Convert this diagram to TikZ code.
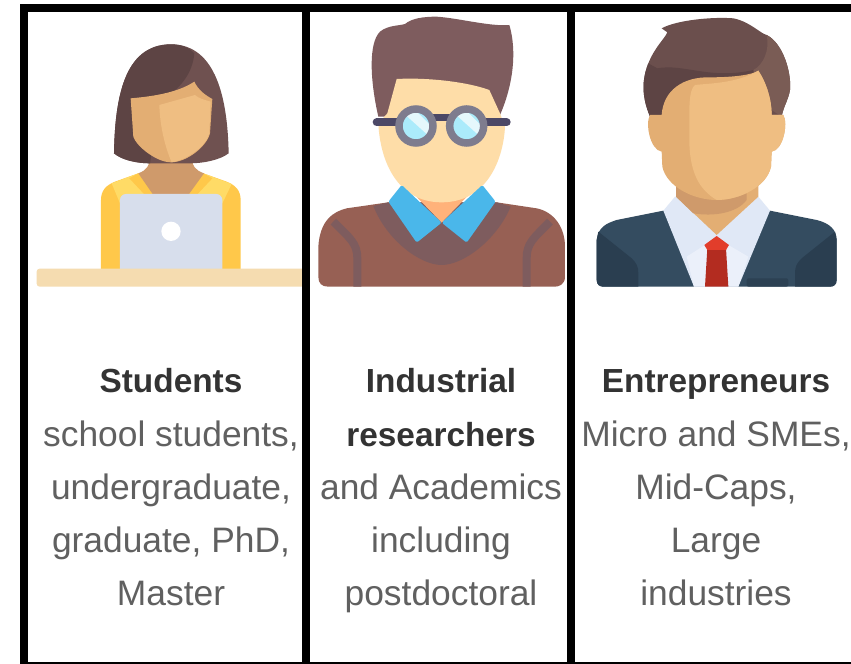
\documentclass[tikz,border=0pt]{standalone}
\usepackage{fontspec}
\setmainfont{Liberation Sans}
\usetikzlibrary{calc}
\definecolor{txtgray}{HTML}{606060}
\definecolor{txtdark}{HTML}{333333}
\definecolor{hairdark}{HTML}{5D4444}
\definecolor{hairlight}{HTML}{6F5150}
\definecolor{skinlight}{HTML}{EFBE82}
\definecolor{skinmid}{HTML}{E3AE73}
\definecolor{skindark}{HTML}{CF9A6B}
\definecolor{yellowdark}{HTML}{FFC84A}
\definecolor{yellowlight}{HTML}{FFDB66}
\definecolor{laptop}{HTML}{D7DEEC}
\definecolor{desk}{HTML}{F5DCB0}
\definecolor{rhair}{HTML}{7E5C5E}
\definecolor{rface}{HTML}{FEDDA8}
\definecolor{rneck}{HTML}{FFB27A}
\definecolor{rsweater}{HTML}{976054}
\definecolor{rcollar}{HTML}{4AB7EA}
\definecolor{gbar}{HTML}{4C4866}
\definecolor{gring}{HTML}{7E7C8E}
\definecolor{glens}{HTML}{ABEBFB}
\definecolor{glight}{HTML}{E5F8FC}
\definecolor{suit}{HTML}{344C60}
\definecolor{suitdark}{HTML}{2A3E50}
\definecolor{shirt}{HTML}{E0E8F6}
\definecolor{shirtlight}{HTML}{EBF0FA}
\definecolor{tieknot}{HTML}{E23D2B}
\definecolor{tiebody}{HTML}{B32C20}
\definecolor{ehairtop}{HTML}{6B4F4D}
\definecolor{ehairside}{HTML}{7A5C55}
\tikzset{
  bodytext/.style={anchor=base,inner sep=0pt,text=txtgray,font=\fontsize{35.5}{36}\selectfont},
  headtext/.style={anchor=base,inner sep=0pt,text=txtdark,font=\fontsize{33.5}{36}\selectfont\bfseries},
  icon/.style={x=0.33333bp,y=-0.33333bp},
  frameline/.style={fill=black,draw=none}
}
\begin{document}
\begin{tikzpicture}[x=1bp,y=-1bp]
\useasboundingbox (0,0) rectangle (851,664);
\fill[white] (0,0) rectangle (851,664);

% Student
\begin{scope}[icon]
\fill[yellowdark] (303,810) -- (303,600) .. controls (303,570) and (320,555) .. (345,545) -- (415,520) -- (610,520) -- (680,545) .. controls (705,555) and (722,570) .. (722,600) -- (722,810) -- cycle;
\fill[yellowlight] (335,550) -- (415,520) -- (610,520) -- (695,552) -- (667,610) -- (360,610) -- cycle;
\fill[yellowdark] (388,535) -- (415,520) -- (465,585) -- (435,585) -- cycle;
\fill[yellowdark] (637,535) -- (610,520) -- (560,585) -- (590,585) -- cycle;
\fill[skindark] (415,520) .. controls (440,510) and (450,500) .. (450,460) -- (575,460) .. controls (575,500) and (585,510) .. (612,520) -- (565,585) -- (460,585) -- cycle;
\fill[laptop,rounded corners=6bp] (360,582) rectangle (667,825);
\fill[white] (513,694) circle (29);
\fill[desk,rounded corners=3bp] (110,806) rectangle (930,860);
\fill[hairlight] (342,460) .. controls (345,300) and (370,133) .. (513,133) .. controls (650,133) and (683,300) .. (686,460) .. controls (660,480) and (610,490) .. (570,490) -- (450,490) .. controls (410,490) and (365,480) .. (342,460) -- cycle;
\fill[hairdark] (342,460) .. controls (345,300) and (370,133) .. (513,133) .. controls (545,133) and (565,142) .. (583,160) .. controls (578,220) and (540,270) .. (480,300) -- (450,490) .. controls (410,490) and (365,480) .. (342,460) -- cycle;
\fill[skinmid] (392,295) .. controls (450,290) and (530,280) .. (583,245) .. controls (595,270) and (615,285) .. (637,297) -- (630,400) .. controls (620,440) and (560,487) .. (513,487) .. controls (470,487) and (410,440) .. (400,410) -- cycle;
\fill[skinlight] (478,315) -- (585,285) .. controls (595,295) and (615,300) .. (632,305) -- (628,400) .. controls (618,440) and (560,480) .. (515,487) .. controls (495,440) and (480,380) .. (478,315) -- cycle;
\end{scope}

% Researcher
\begin{scope}[shift={(300,0)},icon]
\fill[rhair] (235,350) .. controls (210,240) and (205,130) .. (240,95) .. controls (265,75) and (295,78) .. (315,72) .. controls (335,55) and (370,50) .. (410,50) .. controls (480,55) and (570,80) .. (628,75) .. controls (645,130) and (650,230) .. (600,345) -- cycle;
\fill[rsweater] (55,830) -- (55,740) .. controls (60,660) and (100,635) .. (140,625) -- (265,607) -- (590,607) -- (710,625) .. controls (760,635) and (795,680) .. (795,740) -- (795,830) .. controls (795,855) and (775,860) .. (765,860) -- (85,860) .. controls (65,860) and (55,850) .. (55,830) -- cycle;
\begin{scope}
\clip (55,830) -- (55,740) .. controls (60,660) and (100,635) .. (140,625) -- (710,625) .. controls (760,635) and (795,680) .. (795,740) -- (795,860) -- (55,860) -- cycle;
\draw[rhair,line width=8bp] (100,665) .. controls (150,715) and (172,730) .. (172,775) -- (172,870);
\draw[rhair,line width=8bp] (750,665) .. controls (700,715) and (680,730) .. (680,775) -- (680,870);
\end{scope}
\fill[rhair] (220,618) -- (265,607) -- (590,607) -- (632,620) .. controls (590,720) and (490,795) .. (425,795) .. controls (360,795) and (260,720) .. (220,618) -- cycle;
\fill[rneck] (330,570) -- (425,668) -- (520,570) -- cycle;
\fill[rface] (290,237) .. controls (380,232) and (500,245) .. (568,270) -- (600,340) -- (615,380) .. controls (610,480) and (560,607) .. (425,607) .. controls (290,607) and (240,480) .. (235,370) -- (262,340) -- cycle;
\fill[rcollar,rounded corners=1.5bp] (305,555) -- (425,668) -- (350,728) -- (265,605) -- cycle;
\fill[rcollar,rounded corners=1.5bp] (547,555) -- (425,668) -- (500,728) -- (587,605) -- cycle;
\draw[gbar,line width=8bp,line cap=round] (230,367) -- (295,367);
\draw[gbar,line width=8bp,line cap=round] (555,367) -- (620,367);
\draw[gbar,line width=7bp] (400,352) -- (450,352);
\fill[glens] (348,378) circle (45);
\fill[glens] (500,378) circle (45);
\begin{scope}
\clip (348,378) circle (45);
\fill[glight] (300,330) -- (345,330) -- (400,385) -- (400,420) -- cycle;
\end{scope}
\begin{scope}
\clip (500,378) circle (45);
\fill[glight] (452,330) -- (497,330) -- (552,385) -- (552,420) -- cycle;
\end{scope}
\draw[gring,line width=7.5bp] (348,378) circle (51);
\draw[gring,line width=7.5bp] (500,378) circle (51);
\end{scope}

% Entrepreneur
\begin{scope}[shift={(570,0)},icon]
\fill[suit] (80,840) -- (80,720) .. controls (85,680) and (110,670) .. (140,660) -- (280,632) -- (440,700) -- (600,632) -- (740,660) .. controls (780,670) and (800,690) .. (800,720) -- (800,840) .. controls (800,855) and (790,860) .. (780,860) -- (100,860) .. controls (90,860) and (80,855) .. (80,840) -- cycle;
\fill[suitdark] (85,695) -- (185,775) .. controls (200,790) and (205,800) .. (205,820) -- (205,860) -- (100,860) .. controls (90,860) and (80,855) .. (80,840) -- (80,720) -- cycle;
\fill[suitdark] (795,695) -- (695,775) .. controls (680,790) and (675,800) .. (675,820) -- (675,860) -- (780,860) .. controls (790,860) and (800,855) .. (800,840) -- (800,720) -- cycle;
\fill[suitdark!80!suit,rounded corners=2bp] (530,860) -- (530,835) -- (655,835) -- (655,860) -- cycle;
\fill[shirt] (280,632) -- (315,590) -- (565,590) -- (600,632) -- (505,860) -- (372,860) -- cycle;
\fill[shirtlight] (350,770) -- (405,735) -- (475,735) -- (535,770) -- (505,860) -- (372,860) -- cycle;
\fill[skinmid] (318,530) -- (318,590) -- (440,705) -- (565,590) -- (565,530) -- cycle;
\fill[skindark] (318,530) -- (318,590) -- (370,640) .. controls (430,650) and (500,640) .. (530,600) -- (530,530) -- cycle;
\fill[tiebody] (412,745) -- (468,745) -- (475,860) -- (405,860) -- cycle;
\fill[tieknot] (403,735) -- (440,708) -- (477,735) -- (468,750) -- (412,750) -- cycle;
\fill[ehairtop] (240,350) .. controls (215,290) and (215,240) .. (235,190) .. controls (255,140) and (285,115) .. (292,97) -- (275,85) .. controls (320,60) and (430,50) .. (490,55) .. controls (540,65) and (570,100) .. (590,105) .. controls (640,130) and (665,220) .. (660,270) .. controls (655,300) and (640,320) .. (635,350) -- cycle;
\fill[ehairside] (590,105) .. controls (640,130) and (665,220) .. (660,270) .. controls (655,300) and (640,320) .. (635,350) -- (560,300) -- (550,210) .. controls (580,195) and (600,150) .. (590,105) -- cycle;
\fill[hairdark] (240,350) .. controls (215,290) and (215,240) .. (235,190) -- (262,205) .. controls (340,190) and (420,240) .. (550,210) -- (560,300) -- (300,350) -- cycle;
\fill[skinmid] (275,345) .. controls (280,270) and (340,230) .. (420,232) .. controls (490,232) and (545,225) .. (565,212) .. controls (590,250) and (605,300) .. (605,345) -- (640,345) .. controls (655,370) and (640,450) .. (605,455) -- (603,500) .. controls (590,560) and (510,600) .. (440,600) .. controls (370,600) and (290,560) .. (277,500) -- (275,455) .. controls (240,450) and (225,370) .. (240,345) -- cycle;
\fill[skinlight] (375,255) .. controls (420,250) and (500,250) .. (565,212) .. controls (590,250) and (605,300) .. (605,345) -- (640,345) .. controls (655,370) and (640,450) .. (605,455) -- (603,500) .. controls (590,560) and (510,600) .. (440,600) .. controls (390,570) and (355,520) .. (358,400) .. controls (358,330) and (355,270) .. (375,255) -- cycle;
\end{scope}

% Text
\node[headtext] (s0) at (171,392) {Students};
\node[bodytext] (s1) at (171,446) {school students,};
\node[bodytext] (s2) at (171,499) {undergraduate,};
\node[bodytext] (s3) at (171,552) {graduate, PhD,};
\node[bodytext] (s4) at (171,605) {Master};
\node[headtext] (r0) at (441,392) {Industrial};
\node[headtext] (r1) at (441,446) {researchers};
\node[bodytext] (r2) at (441,499) {and Academics};
\node[bodytext] (r3) at (441,552) {including};
\node[bodytext] (r4) at (441,605) {postdoctoral};
\node[headtext] (e0) at (716,392) {Entrepreneurs};
\node[bodytext] (e1) at (716,446) {Micro and SMEs,};
\node[bodytext] (e2) at (716,499) {Mid-Caps,};
\node[bodytext] (e3) at (716,552) {Large};
\node[bodytext] (e4) at (716,605) {industries};

% Frame
\fill[frameline] (20,4) rectangle (851,12);
\fill[frameline] (20,4) rectangle (28,664);
\fill[frameline] (301.5,4) rectangle (309.5,664);
\fill[frameline] (567,4) rectangle (574.5,664);
\fill[frameline] (20,662) rectangle (851,664);
\end{tikzpicture}
\end{document}
